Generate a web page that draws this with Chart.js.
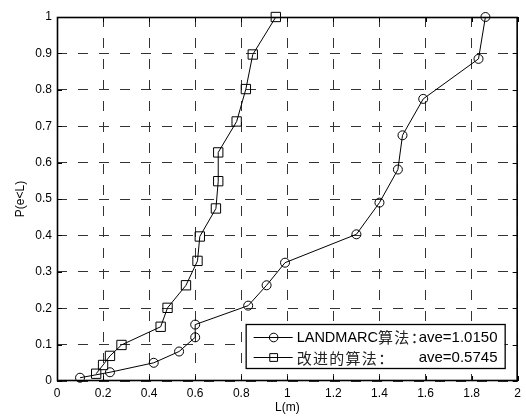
<!DOCTYPE html>
<html>
<head>
<meta charset="utf-8">
<script src="https://cdn.jsdelivr.net/npm/chart.js@4.4.1/dist/chart.umd.min.js"></script>
<style>
  html, body { margin: 0; padding: 0; background: #fff; }
  canvas { display: block; }
</style>
</head>
<body>
<canvas id="myChart" width="526" height="417"></canvas>
<script>
// values
const landmarcX = [0.10, 0.23, 0.42, 0.53, 0.60, 0.60, 0.83, 0.91, 0.99, 1.30, 1.40, 1.48, 1.50, 1.59, 1.83, 1.86];
const landmarcY = [0.009, 0.024, 0.050, 0.081, 0.120, 0.155, 0.207, 0.263, 0.325, 0.403, 0.490, 0.581, 0.675, 0.775, 0.885, 1.0];

const improvedX = [0.17, 0.20, 0.23, 0.28, 0.45, 0.48, 0.56, 0.61, 0.62, 0.69, 0.70, 0.70, 0.78, 0.82, 0.85, 0.95];
const improvedY = [0.020, 0.044, 0.069, 0.099, 0.149, 0.201, 0.263, 0.330, 0.397, 0.474, 0.549, 0.628, 0.713, 0.802, 0.897, 1.0];

const xTicks = [0, 0.2, 0.4, 0.6, 0.8, 1, 1.2, 1.4, 1.6, 1.8, 2];
const yTicks = [0, 0.1, 0.2, 0.3, 0.4, 0.5, 0.6, 0.7, 0.8, 0.9, 1];

const legendNames = ['LANDMARC算法：', '改进的算法：'];
const legendAve = ['ave=1.0150', 'ave=0.5745'];

const LATIN = 'Liberation Sans, Arial, sans-serif';
const CJK = '"Noto Sans CJK SC", sans-serif';

Chart.defaults.font.family = LATIN;
Chart.defaults.color = '#000';

function toPoints(xs, ys) {
  let pts = [];
  for (let i = 0; i < xs.length; i++) {
    pts.push({ x: xs[i], y: ys[i] });
  }
  return pts;
}

// box around the axes, inward tick marks and the legend box
const framePlugin = {
  id: 'frame',
  afterDatasetsDraw(chart) {
    const ctx = chart.ctx;
    const a = chart.chartArea;
    const sx = chart.scales.x;
    const sy = chart.scales.y;
    ctx.save();
    ctx.strokeStyle = '#000';
    ctx.lineWidth = 1;
    ctx.beginPath();
    xTicks.forEach(v => {
      const px = Math.round(sx.getPixelForValue(v)) + 0.5;
      ctx.moveTo(px, a.bottom); ctx.lineTo(px, a.bottom - 5);
      ctx.moveTo(px, a.top); ctx.lineTo(px, a.top + 5);
    });
    yTicks.forEach(v => {
      const py = Math.round(sy.getPixelForValue(v)) + 0.5;
      ctx.moveTo(a.left, py); ctx.lineTo(a.left + 5, py);
      ctx.moveTo(a.right, py); ctx.lineTo(a.right - 5, py);
    });
    ctx.stroke();
    ctx.lineWidth = 1.6;
    ctx.strokeRect(a.left + 0.5, a.top + 0.5, a.right - a.left - 1, a.bottom - a.top - 1);
    ctx.restore();
  },
  afterDraw(chart) {
    const ctx = chart.ctx;
    const a = chart.chartArea;
    const right = a.right - 13;
    const bottom = a.bottom - 13;
    const left = right - 259;
    const top = bottom - 44;
    ctx.save();
    ctx.fillStyle = '#fff';
    ctx.fillRect(left, top, right - left, bottom - top);
    ctx.strokeStyle = '#000';
    ctx.lineWidth = 1.3;
    ctx.strokeRect(left + 0.5, top + 0.5, right - left, bottom - top);

    chart.data.datasets.forEach((ds, i) => {
      const cy = top + 12.5 + i * 20.5;
      const lx0 = left + 8, lx1 = left + 47, mx = left + 28;
      ctx.strokeStyle = '#000';
      ctx.lineWidth = 1;
      ctx.beginPath();
      ctx.moveTo(lx0, Math.round(cy) + 0.5);
      ctx.lineTo(lx1, Math.round(cy) + 0.5);
      ctx.stroke();
      ctx.fillStyle = 'rgba(0,0,0,0)';
      Chart.helpers.drawPoint(ctx, {
        pointStyle: ds.pointStyle, radius: ds.pointStyle === 'rect' ? 5.5 : 4.3, borderWidth: 1, rotation: 0
      }, mx, Math.round(cy) + 0.5);

      // name: latin letters and CJK characters in their own fonts
      let tx = left + 51;
      ctx.textBaseline = 'middle';
      ctx.textAlign = 'left';
      for (const ch of legendNames[i]) {
        if (ch.charCodeAt(0) > 255) {
          ctx.font = '15px ' + CJK;
          ctx.fillStyle = '#222';
          ctx.fillText(ch, tx, cy + 1);
          tx += 16.3;
        } else {
          ctx.font = '14.5px ' + LATIN;
          ctx.fillStyle = '#000';
          ctx.fillText(ch, tx, cy + 1);
          tx += ctx.measureText(ch).width;
        }
      }
      ctx.font = '15px ' + LATIN;
      ctx.fillStyle = '#000';
      ctx.fillText(legendAve[i], left + 173, cy + 1);
    });
    ctx.restore();
  }
};

const ctx = document.getElementById('myChart');

new Chart(ctx, {
  type: 'line',
  data: {
    datasets: [{
      label: legendNames[0] + ' ' + legendAve[0],
      data: toPoints(landmarcX, landmarcY),
      borderColor: '#000',
      borderWidth: 1,
      backgroundColor: 'transparent',
      pointStyle: 'circle',
      pointRadius: 4.5,
      pointBorderColor: '#000',
      pointBorderWidth: 1,
      pointBackgroundColor: 'transparent',
      tension: 0,
      clip: false
    }, {
      label: legendNames[1] + ' ' + legendAve[1],
      data: toPoints(improvedX, improvedY),
      borderColor: '#000',
      borderWidth: 1,
      backgroundColor: 'transparent',
      pointStyle: 'rect',
      pointRadius: 6.6,
      pointBorderColor: '#000',
      pointBorderWidth: 1,
      pointBackgroundColor: 'transparent',
      tension: 0,
      clip: false
    }]
  },
  options: {
    responsive: false,
    animation: false,
    events: [],
    layout: { padding: { top: 17, right: 6, left: 0, bottom: 0 } },
    plugins: {
      legend: { display: false },
      tooltip: { enabled: false }
    },
    scales: {
      x: {
        type: 'linear',
        min: 0,
        max: 2,
        afterBuildTicks: s => { s.ticks = xTicks.map(v => ({ value: v })); },
        afterFit: s => { s.height = 36; },
        ticks: {
          padding: 5,
          maxRotation: 0,
          font: { size: 12 },
          callback: v => String(+v.toFixed(1))
        },
        grid: { color: '#333', lineWidth: 1, drawTicks: false },
        border: { display: false, dash: [10, 11] },
        title: {
          display: true,
          text: 'L(m)',
          font: { size: 12 },
          padding: { top: 0, bottom: 2 }
        }
      },
      y: {
        type: 'linear',
        min: 0,
        max: 1,
        afterBuildTicks: s => { s.ticks = yTicks.map(v => ({ value: v })); },
        afterFit: s => { s.width = 57; },
        ticks: {
          padding: 5,
          font: { size: 12 },
          callback: v => String(+v.toFixed(1))
        },
        grid: { color: '#333', lineWidth: 1, drawTicks: false },
        border: { display: false, dash: [10, 11] },
        title: {
          display: true,
          text: 'P(e<L)',
          font: { size: 12 },
          padding: { top: 13, bottom: 0 }
        }
      }
    }
  },
  plugins: [framePlugin]
});
</script>
</body>
</html>
